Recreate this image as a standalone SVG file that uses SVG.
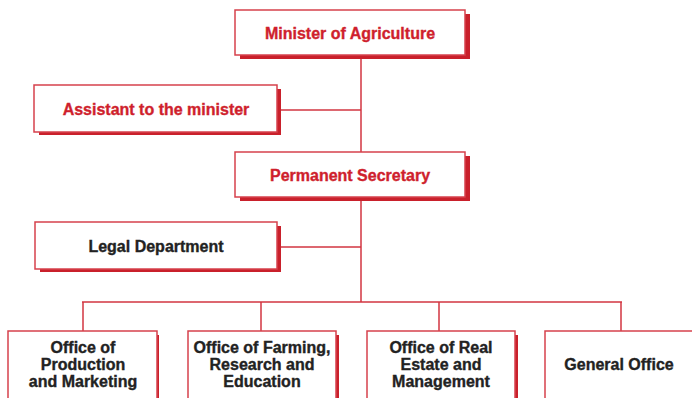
<svg xmlns="http://www.w3.org/2000/svg" width="692" height="398" viewBox="0 0 692 398">
<defs>
<style>
.sh{fill:#c9202b}
.bx{fill:#fff;stroke:#d6414c;stroke-width:1.5}
.ln{stroke:#d23440;stroke-width:1.5;fill:none}
.tr{font-family:"Liberation Sans",Arial,sans-serif;font-weight:bold;font-size:16px;fill:#cf1f2d;stroke:#cf1f2d;stroke-width:0.35;text-anchor:middle}
.tk{font-family:"Liberation Sans",Arial,sans-serif;font-weight:bold;font-size:16px;fill:#222;stroke:#222;stroke-width:0.35;text-anchor:middle}
</style>
</defs>
<rect width="692" height="398" fill="#fff"/>
<g id="connectors">
<line class="ln" x1="361" y1="55" x2="361" y2="152"/>
<line class="ln" x1="281" y1="110" x2="361" y2="110"/>
<line class="ln" x1="361" y1="197" x2="361" y2="302"/>
<line class="ln" x1="281" y1="247" x2="361" y2="247"/>
<line class="ln" x1="82" y1="302" x2="622" y2="302"/>
<line class="ln" x1="83" y1="302" x2="83" y2="331"/>
<line class="ln" x1="261" y1="302" x2="261" y2="331"/>
<line class="ln" x1="439" y1="302" x2="439" y2="331"/>
<line class="ln" x1="621" y1="302" x2="621" y2="331"/>
</g>
<g id="minister">
<rect class="sh" x="240" y="14" width="230" height="45"/>
<rect class="bx" x="235" y="10" width="230" height="45"/>
<text class="tr" x="350" y="39">Minister of Agriculture</text>
</g>
<g id="assistant">
<rect class="sh" x="39" y="89" width="242" height="46"/>
<rect class="bx" x="34" y="85" width="243" height="47"/>
<text class="tr" x="156" y="115">Assistant to the minister</text>
</g>
<g id="secretary">
<rect class="sh" x="240" y="156" width="230" height="45"/>
<rect class="bx" x="235" y="152" width="230" height="45"/>
<text class="tr" x="350" y="181">Permanent Secretary</text>
</g>
<g id="legal">
<rect class="sh" x="40" y="226" width="241" height="46"/>
<rect class="bx" x="35" y="222" width="242" height="47"/>
<text class="tk" x="156" y="252">Legal Department</text>
</g>
<g id="office1">
<rect class="sh" x="12" y="335" width="147" height="70"/>
<rect class="bx" x="8" y="331" width="149" height="70"/>
<text class="tk" x="83" y="353">Office of</text>
<text class="tk" x="83" y="370">Production</text>
<text class="tk" x="83" y="387">and Marketing</text>
</g>
<g id="office2">
<rect class="sh" x="192" y="335" width="147" height="70"/>
<rect class="bx" x="188" y="331" width="148" height="70"/>
<text class="tk" x="262" y="353">Office of Farming,</text>
<text class="tk" x="262" y="370">Research and</text>
<text class="tk" x="262" y="387">Education</text>
</g>
<g id="office3">
<rect class="sh" x="371" y="335" width="147" height="70"/>
<rect class="bx" x="367" y="331" width="148" height="70"/>
<text class="tk" x="441" y="353">Office of Real</text>
<text class="tk" x="441" y="370">Estate and</text>
<text class="tk" x="441" y="387">Management</text>
</g>
<g id="general">
<rect class="sh" x="549" y="335" width="160" height="70"/>
<rect class="bx" x="545" y="331" width="160" height="70"/>
<text class="tk" x="619" y="370">General Office</text>
</g>
</svg>
